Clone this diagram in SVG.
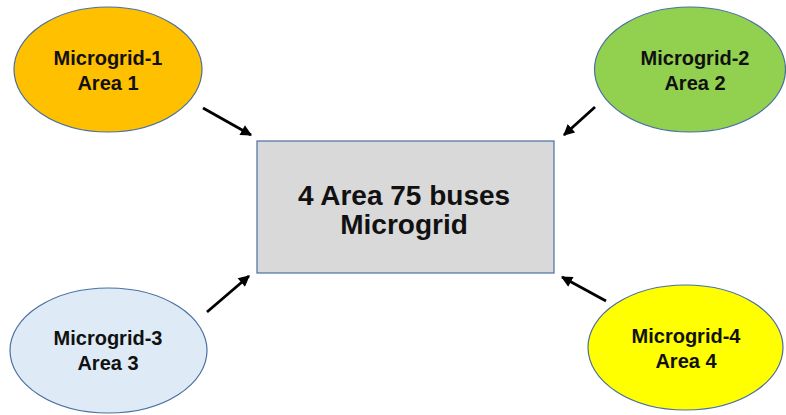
<svg xmlns="http://www.w3.org/2000/svg" width="786" height="415" viewBox="0 0 786 415">
<defs>
<style>
.node ellipse, .node rect { stroke: #4a6fa0; stroke-width: 1.2; }
.t { font-family: "Liberation Sans", Arial, sans-serif; font-weight: bold; fill: #111; text-anchor: middle; }
.s { font-size: 20px; }
.b { font-size: 28px; }
.conn line { stroke: #000; stroke-width: 2.8; marker-end: url(#ah); }
</style>
<marker id="ah" viewBox="0 0 10 10" refX="9" refY="5" markerWidth="4.2" markerHeight="4" orient="auto" markerUnits="strokeWidth">
<path d="M0,0 L10,5 L0,10 z" fill="#000"/>
</marker>
</defs>
<rect width="786" height="415" fill="#fff"/>
<g id="center" class="node">
<rect x="257" y="141" width="297" height="132" fill="#d9d9d9"/>
<text class="t b" x="404" y="205">4 Area 75 buses</text>
<text class="t b" x="404" y="234">Microgrid</text>
</g>
<g id="mg1" class="node">
<ellipse cx="108" cy="69.5" rx="94" ry="62.5" fill="#ffc000"/>
<text class="t s" x="108" y="65">Microgrid-1</text>
<text class="t s" x="108" y="90">Area 1</text>
</g>
<g id="mg2" class="node">
<ellipse cx="690" cy="69.5" rx="95.5" ry="62.5" fill="#92d050"/>
<text class="t s" x="695" y="65">Microgrid-2</text>
<text class="t s" x="695" y="90">Area 2</text>
</g>
<g id="mg3" class="node">
<ellipse cx="108.5" cy="350.5" rx="98.5" ry="62.5" fill="#deebf7"/>
<text class="t s" x="108" y="345">Microgrid-3</text>
<text class="t s" x="108" y="370">Area 3</text>
</g>
<g id="mg4" class="node">
<ellipse cx="685.5" cy="347.5" rx="97.5" ry="62.5" fill="#ffff00"/>
<text class="t s" x="686" y="343">Microgrid-4</text>
<text class="t s" x="686" y="368">Area 4</text>
</g>
<g id="connectors" class="conn">
<line x1="203" y1="108" x2="251" y2="135"/>
<line x1="595" y1="107" x2="564" y2="135"/>
<line x1="207" y1="312" x2="249" y2="276"/>
<line x1="606" y1="301" x2="562" y2="277"/>
</g>
</svg>
